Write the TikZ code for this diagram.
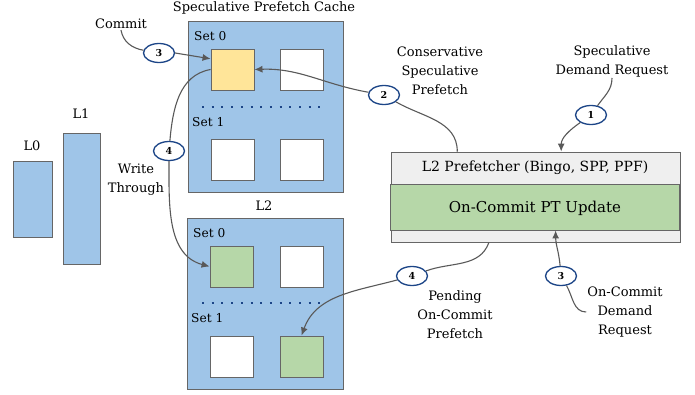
\documentclass[tikz,border=0pt]{standalone}
\usepackage{fontspec}
\setmainfont{DejaVu Serif}
\usetikzlibrary{arrows.meta, shapes.geometric}

\definecolor{cacheblue}{HTML}{9FC5E8}
\definecolor{hityellow}{HTML}{FFE599}
\definecolor{hitgreen}{HTML}{B6D7A8}
\definecolor{pfgray}{HTML}{EFEFEF}
\definecolor{stepnavy}{HTML}{1C4587}
\definecolor{edgegray}{HTML}{666666}
\definecolor{wiregray}{HTML}{595959}

\begin{document}
\begin{tikzpicture}[x=1pt, y=1pt,
    cache/.style={rectangle, draw=edgegray, fill=cacheblue, line width=0.9pt, minimum width=155pt, minimum height=171pt, inner sep=0pt},
    level/.style={rectangle, draw=edgegray, fill=cacheblue, line width=0.9pt, inner sep=0pt},
    way/.style={rectangle, draw=edgegray, fill=white, line width=0.9pt, minimum width=43pt, minimum height=41pt, inner sep=0pt},
    setname/.style={anchor=west, inner sep=0pt, font=\fontsize{12.2}{14}\selectfont},
    note/.style={align=center, inner sep=1pt, font=\fontsize{13}{19}\selectfont},
    title/.style={inner sep=0pt, font=\fontsize{13}{15}\selectfont},
    stepmark/.style={ellipse, draw=stepnavy, fill=white, line width=1.3pt, minimum width=31pt, minimum height=19pt, inner sep=0pt, font=\bfseries\fontsize{9.5}{10}\selectfont},
    wire/.style={draw=wiregray, line width=1.1pt},
    arrow/.style={wire, -{Latex[length=8pt, width=7pt]}},
    dots/.style={draw=stepnavy, line width=2pt, dash pattern=on 2pt off 7.7pt}
]
\useasboundingbox (0,0) rectangle (695,394);

% L0 and L1
\node[level, minimum width=39pt, minimum height=76pt] (l0) at (32.5, 195) {};
\node[level, minimum width=37pt, minimum height=131pt] (l1) at (81.5, 195.5) {};
\node[title] (l0name) at (32, 248) {L0};
\node[title] (l1name) at (81, 280) {L1};

% Speculative Prefetch Cache
\node[cache] (spc) at (265.5, 287.5) {};
\node[title] (spcname) at (264, 386) {Speculative Prefetch Cache};
\node[setname] (spcset0) at (194, 358) {Set 0};
\node[setname] (spcset1) at (192, 272) {Set 1};
\node[way, fill=hityellow] (spc00) at (232.5, 324.5) {};
\node[way] (spc01) at (302, 324.5) {};
\node[way] (spc10) at (232.5, 234.5) {};
\node[way] (spc11) at (302, 234.5) {};
\draw[dots] (202, 287) -- (328, 287);

% L2
\node[cache, minimum width=156pt] (l2) at (265, 90.5) {};
\node[title] (l2name) at (264, 188) {L2};
\node[setname] (l2set0) at (193, 161) {Set 0};
\node[setname] (l2set1) at (191, 76) {Set 1};
\node[way, fill=hitgreen] (l200) at (231.5, 127.5) {};
\node[way] (l201) at (301.5, 127.5) {};
\node[way] (l210) at (231.5, 37.5) {};
\node[way, fill=hitgreen] (l211) at (301.5, 37.5) {};
\draw[dots] (202, 91) -- (328, 91);

% L2 Prefetcher
\node[rectangle, draw=edgegray, fill=pfgray, line width=0.9pt, minimum width=289pt, minimum height=90pt] (pfbox) at (536, 197) {};
\node[rectangle, draw=edgegray, fill=hitgreen, line width=0.9pt, minimum width=289pt, minimum height=46pt] (pfupd) at (534.5, 187) {};
\node[title, font=\fontsize{14}{16}\selectfont] (pfname) at (535, 226) {L2 Prefetcher (Bingo, SPP, PPF)};
\node[title, font=\fontsize{15}{17}\selectfont] (updname) at (535, 186) {On-Commit PT Update};

% Labels
\node[note] (commit) at (121, 370) {Commit};
\node[note] (wt) at (136, 214) {Write\\Through};
\node[note] (csp) at (440, 323) {Conservative\\Speculative\\Prefetch};
\node[note] (sdr) at (612, 333) {Speculative\\Demand Request};
\node[note] (pocp) at (455, 79) {Pending\\On-Commit\\Prefetch};
\node[note] (odr) at (625, 82) {On-Commit\\Demand\\Request};

% Step markers
\node[stepmark] (c3a) at (159, 341) {3};
\node[stepmark] (c4a) at (169, 243) {4};
\node[stepmark] (c2) at (384, 299) {2};
\node[stepmark] (c1) at (591, 279) {1};
\node[stepmark] (c4b) at (412, 118) {4};
\node[stepmark] (c3b) at (561, 118) {3};

% Connections
\draw[wire] (commit.south) to[out=-80, in=170] (c3a);
\draw[arrow] (c3a.east) -- (spc00.154);
\draw[wire] (pfbox.150) to[out=90, in=-30] (c2);
\draw[arrow] (c2) to[out=170, in=2] (spc00.east);
\draw[wire] (sdr.south) to[out=-90, in=55] (c1);
\draw[arrow] (c1) to[out=215, in=90] (pfbox.61);
\draw[wire] (spc00.west) to[out=190, in=85] (c4a);
\draw[arrow] (c4a) to[out=-90, in=165] (l200.west);
\draw[wire] (pfbox.224) to[out=-110, in=20] (c4b);
\draw[arrow] (c4b) to[out=195, in=70] (l211.north);
\draw[wire] (odr.west) to[out=180, in=-60] (c3b);
\draw[arrow] (c3b) to[out=95, in=-90] (pfupd.-48);

\end{tikzpicture}
\end{document}
